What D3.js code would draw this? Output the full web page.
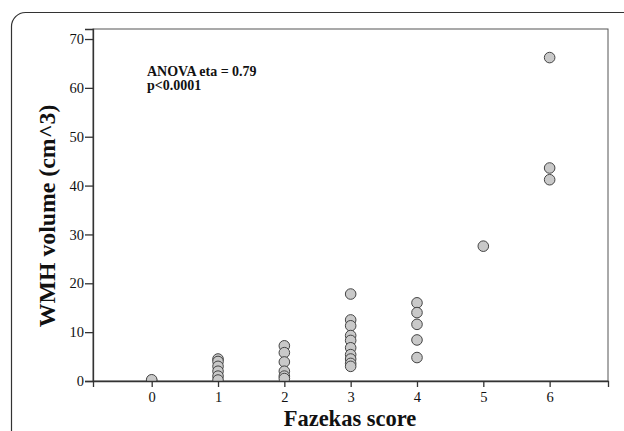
<!DOCTYPE html>
<html>
<head>
<meta charset="utf-8">
<script src="https://cdn.jsdelivr.net/npm/d3@7"></script>
<style>
  body { margin: 0; background: #fff; }
  svg { display: block; }
  text { font-family: "Liberation Serif", "Times New Roman", serif; }
</style>
</head>
<body>
<div id="chart"></div>
<script>
// Fazekas score vs WMH volume
var scores = [0, 1, 2, 3, 4, 5, 6];
var score0 = [0.05, 0.25];
var score1 = [4.5, 4.0, 3.0, 2.0, 1.0, 0.2];
var score2 = [7.2, 5.8, 3.9, 2.0, 1.0, 0.5];
var score3 = [17.8, 12.5, 11.3, 9.3, 8.3, 6.8, 5.4, 4.5, 3.6, 3.0];
var score4 = [16.0, 14.0, 11.6, 8.4, 4.8];
var score5 = [27.6];
var score6 = [66.2, 43.6, 41.2];
var yTicks = [0, 10, 20, 30, 40, 50, 60, 70];

var groups = [score0, score1, score2, score3, score4, score5, score6];
var points = [];
groups.forEach(function(vals, i) {
  vals.forEach(function(v) { points.push({ score: scores[i], vol: v }); });
});

var width = 624, height = 431;
var plot = { left: 93, right: 608, top: 29, bottom: 381 };

var svg = d3.select("#chart").append("svg")
    .attr("width", width)
    .attr("height", height);

// outer figure frame (cropped at right and bottom)
svg.append("rect")
    .attr("x", 11.5).attr("y", 12.5)
    .attr("width", 700).attr("height", 500)
    .attr("rx", 14)
    .attr("fill", "none")
    .attr("stroke", "#333")
    .attr("stroke-width", 1.2);

var x = d3.scaleLinear().domain([-0.885, 6.88]).range([plot.left, plot.right]);
var y = d3.scaleLinear().domain([0, 72.05]).range([plot.bottom, plot.top]);

svg.append("defs").append("clipPath").attr("id", "clip")
  .append("rect")
    .attr("x", plot.left).attr("y", plot.top)
    .attr("width", plot.right - plot.left)
    .attr("height", plot.bottom - plot.top);

// plot frame
svg.append("rect")
    .attr("x", plot.left).attr("y", plot.top)
    .attr("width", plot.right - plot.left)
    .attr("height", plot.bottom - plot.top)
    .attr("fill", "none")
    .attr("stroke", "#555")
    .attr("stroke-width", 1);

svg.append("g")
    .attr("clip-path", "url(#clip)")
  .selectAll("circle")
  .data(points)
  .enter().append("circle")
    .attr("cx", d => x(d.score))
    .attr("cy", d => y(d.vol))
    .attr("r", 5.3)
    .attr("fill", "#c9c9c9")
    .attr("stroke", "#444")
    .attr("stroke-width", 1);

var yAxis = svg.append("g")
    .attr("transform", "translate(" + plot.left + ",0)")
    .call(d3.axisLeft(y).tickValues(yTicks).tickSize(8).tickPadding(1).tickFormat(d3.format("d")));

var xAxis = svg.append("g")
    .attr("transform", "translate(0," + plot.bottom + ")")
    .call(d3.axisBottom(x).tickValues(scores).tickSize(6).tickPadding(5).tickFormat(d3.format("d")));

[yAxis, xAxis].forEach(function(a) {
  a.select(".domain").attr("stroke", "#333").attr("stroke-width", 1.3);
  a.selectAll(".tick line").attr("stroke", "#333").attr("stroke-width", 1.3);
  a.selectAll(".tick text")
      .attr("fill", "#111")
      .style("font-family", "Liberation Serif, serif")
      .style("font-size", "14.5px");
});

// annotation, two lines
var note = svg.append("text")
    .attr("font-weight", "bold")
    .attr("font-size", 14)
    .attr("fill", "#111");
note.append("tspan").attr("x", 147).attr("y", 76).text("ANOVA eta = 0.79");
note.append("tspan").attr("x", 147).attr("y", 90).text("p<0.0001");

svg.append("text")
    .attr("x", 350).attr("y", 426)
    .attr("text-anchor", "middle")
    .attr("font-weight", "bold")
    .attr("font-size", 22.5)
    .attr("fill", "#111")
    .text("Fazekas score");

svg.append("text")
    .attr("transform", "translate(55,216) rotate(-90)")
    .attr("text-anchor", "middle")
    .attr("font-weight", "bold")
    .attr("font-size", 23.8)
    .attr("fill", "#111")
    .text("WMH volume (cm^3)");
</script>
</body>
</html>
